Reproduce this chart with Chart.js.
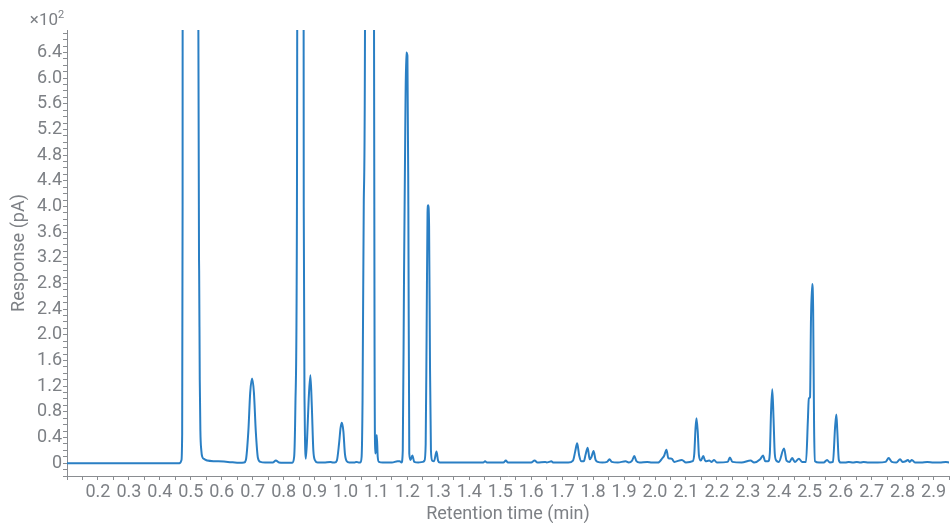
<!DOCTYPE html>
<html>
<head>
<meta charset="utf-8">
<title>Chromatogram</title>
<script src="https://cdn.jsdelivr.net/npm/chart.js@4.4.1/dist/chart.umd.min.js"></script>
<style>
  html, body { margin: 0; padding: 0; background: #fff; }
  #wrap { width: 951px; height: 523px; position: relative; }
</style>
</head>
<body>
<div id="wrap"><canvas id="chromChart"></canvas></div>
<script>
// retention time (min) and detector response (pA)
const retentionTimes = [
  0.10, 0.30, 0.462, 0.466, 0.470, 0.472, 0.4735, 0.475, 0.50, 0.5235, 0.5245, 0.527, 0.529, 0.531, 0.534, 0.537, 0.545, 0.553, 0.58, 0.62, 0.66,
  0.672, 0.678, 0.686, 0.692, 0.698, 0.704, 0.710, 0.717, 0.725, 0.74, 0.765, 0.775, 0.785, 0.80, 0.828,
  0.834, 0.838, 0.843, 0.8485, 0.862, 0.865, 0.868, 0.8715, 0.876, 0.881, 0.8865, 0.891, 0.896, 0.902, 0.91,
  0.93, 0.951, 0.96, 0.965, 0.972, 0.979, 0.984, 0.988, 0.993, 0.998, 1.004, 1.012, 1.03, 1.035, 1.042,
  1.048, 1.052, 1.055, 1.059, 1.063, 1.066, 1.089, 1.092, 1.094, 1.096, 1.098, 1.101, 1.104, 1.108, 1.12,
  1.15, 1.168, 1.175, 1.181, 1.185, 1.189, 1.193, 1.196, 1.200, 1.203, 1.206, 1.210, 1.216, 1.222, 1.235, 1.25,
  1.255, 1.259, 1.262, 1.265, 1.267, 1.270, 1.273, 1.276, 1.280, 1.286, 1.294, 1.299, 1.305, 1.35, 1.40,
  1.445, 1.451, 1.457, 1.51, 1.518, 1.525, 1.60, 1.611, 1.62, 1.645, 1.65, 1.658, 1.665, 1.672, 1.69, 1.72,
  1.735, 1.742, 1.7485, 1.755, 1.762, 1.770, 1.776, 1.7825, 1.789, 1.795, 1.8015, 1.808, 1.815, 1.83, 1.845,
  1.853, 1.86, 1.88, 1.905, 1.915, 1.926, 1.933, 1.940, 1.95, 1.975, 1.99, 2.01, 2.024, 2.030, 2.037,
  2.043, 2.054, 2.062, 2.087, 2.10, 2.122, 2.127, 2.131, 2.134, 2.138, 2.142, 2.148, 2.156, 2.163, 2.175,
  2.183, 2.191, 2.20, 2.235, 2.242, 2.25, 2.28, 2.309, 2.32, 2.34, 2.349, 2.356, 2.366, 2.371, 2.375,
  2.379, 2.383, 2.387, 2.392, 2.40, 2.417, 2.425, 2.435, 2.443, 2.452, 2.465, 2.475, 2.488, 2.494, 2.497,
  2.501, 2.504, 2.508, 2.511, 2.514, 2.517, 2.53, 2.545, 2.556, 2.565, 2.575, 2.582, 2.586, 2.589, 2.594,
  2.60, 2.615, 2.626, 2.64, 2.652, 2.664, 2.674, 2.69, 2.72, 2.745, 2.755, 2.765, 2.78, 2.792, 2.80,
  2.81, 2.817, 2.823, 2.830, 2.84, 2.86, 2.88, 2.90, 2.92, 2.94, 2.95
];
const responsePA = [
  0, 0, 0, 0.5, 5, 40, 400, 3000, 4000, 2500, 675, 300, 130, 50, 20, 10, 6, 4, 3, 2, 0.5,
  1, 5, 50, 110, 132, 110, 50, 8, 2, 1, 1, 4, 1, 0.5, 0.5,
  10, 90, 400, 2500, 2500, 400, 80, 7, 40, 100, 137, 90, 20, 4, 1,
  1, 2, 1, 1, 4, 30, 55, 63, 50, 15, 3, 1, 1, 2, 1,
  1, 10, 98, 410, 700, 3000, 3000, 700, 150, 15, 20, 44, 10, 2, 1,
  1, 3, 3, 1, 20, 290, 520, 640, 635, 400, 15, 5, 12, 2, 1, 2,
  4, 30, 200, 390, 402, 370, 150, 20, 4, 3, 18, 4, 1, 1, 1,
  1, 3, 1, 1, 4, 1, 1, 4, 1, 2, 1, 2, 3, 1, 1, 1,
  4, 18, 31, 12, 3, 3, 14, 24, 6, 10, 19, 5, 2, 1, 2,
  6, 2, 1, 3, 1, 4, 11, 3, 1, 2, 1, 1, 8, 12, 21,
  8, 7, 2, 5, 1, 3, 15, 55, 70, 50, 12, 4, 11, 3, 4,
  2, 5, 1, 2, 9, 2, 1, 4, 1, 6, 12, 3, 3, 15, 80,
  115, 70, 15, 4, 2, 23, 4, 2, 8, 2, 7, 2, 2, 67, 101,
  103, 223, 279, 240, 60, 3, 1, 1, 5, 1, 2, 57, 76, 51, 5,
  1, 1, 2, 1, 2, 1, 2, 1, 1, 2, 8, 2, 1, 6, 2,
  3, 5, 2, 5, 1, 1, 2, 1, 1, 2, 1
];

// axis ticks: labels every 0.1 min / 0.4 x10^2 pA, minor marks in between
const xTickStep = 0.05;
const xLabelEvery = 0.1;
const yTickStep = 10;
const yLabelEvery = 40;
const yScaleFactor = 100;

const axisGrey = '#8a8d91';
const textGrey = '#7d8085';
const traceBlue = '#2a7fc4';

Chart.defaults.font.family = 'Roboto';
Chart.defaults.color = textGrey;

// draws the x10^2 multiplier above the y axis
const multiplierLabel = {
  id: 'multiplierLabel',
  afterDraw(chart) {
    const { ctx, chartArea } = chart;
    ctx.save();
    ctx.fillStyle = textGrey;
    ctx.textBaseline = 'alphabetic';
    ctx.textAlign = 'right';
    ctx.font = '17px Roboto';
    const x = chartArea.left - 9;
    const y = chartArea.top - 5;
    ctx.fillText('\u00d710', x, y);
    ctx.textAlign = 'left';
    ctx.font = '11px Roboto';
    ctx.fillText('2', x, y - 7);
    ctx.restore();
  }
};

const points = retentionTimes.map((t, i) => ({ x: t, y: responsePA[i] }));

new Chart(document.getElementById('chromChart'), {
  type: 'line',
  data: {
    datasets: [{
      data: points,
      borderColor: traceBlue,
      borderWidth: 2,
      pointRadius: 0,
      cubicInterpolationMode: 'monotone',
      fill: false
    }]
  },
  options: {
    responsive: true,
    maintainAspectRatio: false,
    animation: false,
    layout: { padding: { top: 30, right: 0, left: 0, bottom: 0 } },
    plugins: {
      legend: { display: false },
      tooltip: { enabled: false }
    },
    scales: {
      x: {
        type: 'linear',
        min: 0.1,
        max: 2.95,
        afterFit: (s) => { s.height = 47; },
        border: { display: true, color: axisGrey, width: 1 },
        grid: { drawOnChartArea: false, drawTicks: true, tickLength: 4, tickColor: axisGrey },
        ticks: {
          stepSize: xTickStep,
          autoSkip: false,
          maxRotation: 0,
          includeBounds: false,
          padding: 2,
          font: { size: 18 },
          callback: (v) => {
            const r = Math.round(v / xTickStep);
            const every = Math.round(xLabelEvery / xTickStep);
            if (r % every === 0 && v > 0.15) return (r * xTickStep).toFixed(1);
            return '';
          }
        },
        title: {
          display: true,
          text: 'Retention time (min)',
          font: { size: 18, lineHeight: 1 },
          padding: { top: 0, bottom: 0 }
        }
      },
      y: {
        min: -20,
        max: 675,
        afterFit: (s) => { s.width = 67; },
        border: { display: true, color: axisGrey, width: 1 },
        grid: { drawOnChartArea: false, drawTicks: true, tickLength: 4, tickColor: axisGrey },
        ticks: {
          stepSize: yTickStep,
          autoSkip: false,
          includeBounds: false,
          padding: 1,
          font: { size: 18 },
          callback: (v) => {
            const r = Math.round(v);
            if (r >= 0 && r % yLabelEvery === 0) return r === 0 ? '0' : (r / yScaleFactor).toFixed(1);
            return '';
          }
        },
        title: {
          display: true,
          text: 'Response (pA)',
          font: { size: 18, lineHeight: 1.2 },
          padding: { top: 9, bottom: 0 }
        }
      }
    }
  },
  plugins: [multiplierLabel]
});
</script>
</body>
</html>
